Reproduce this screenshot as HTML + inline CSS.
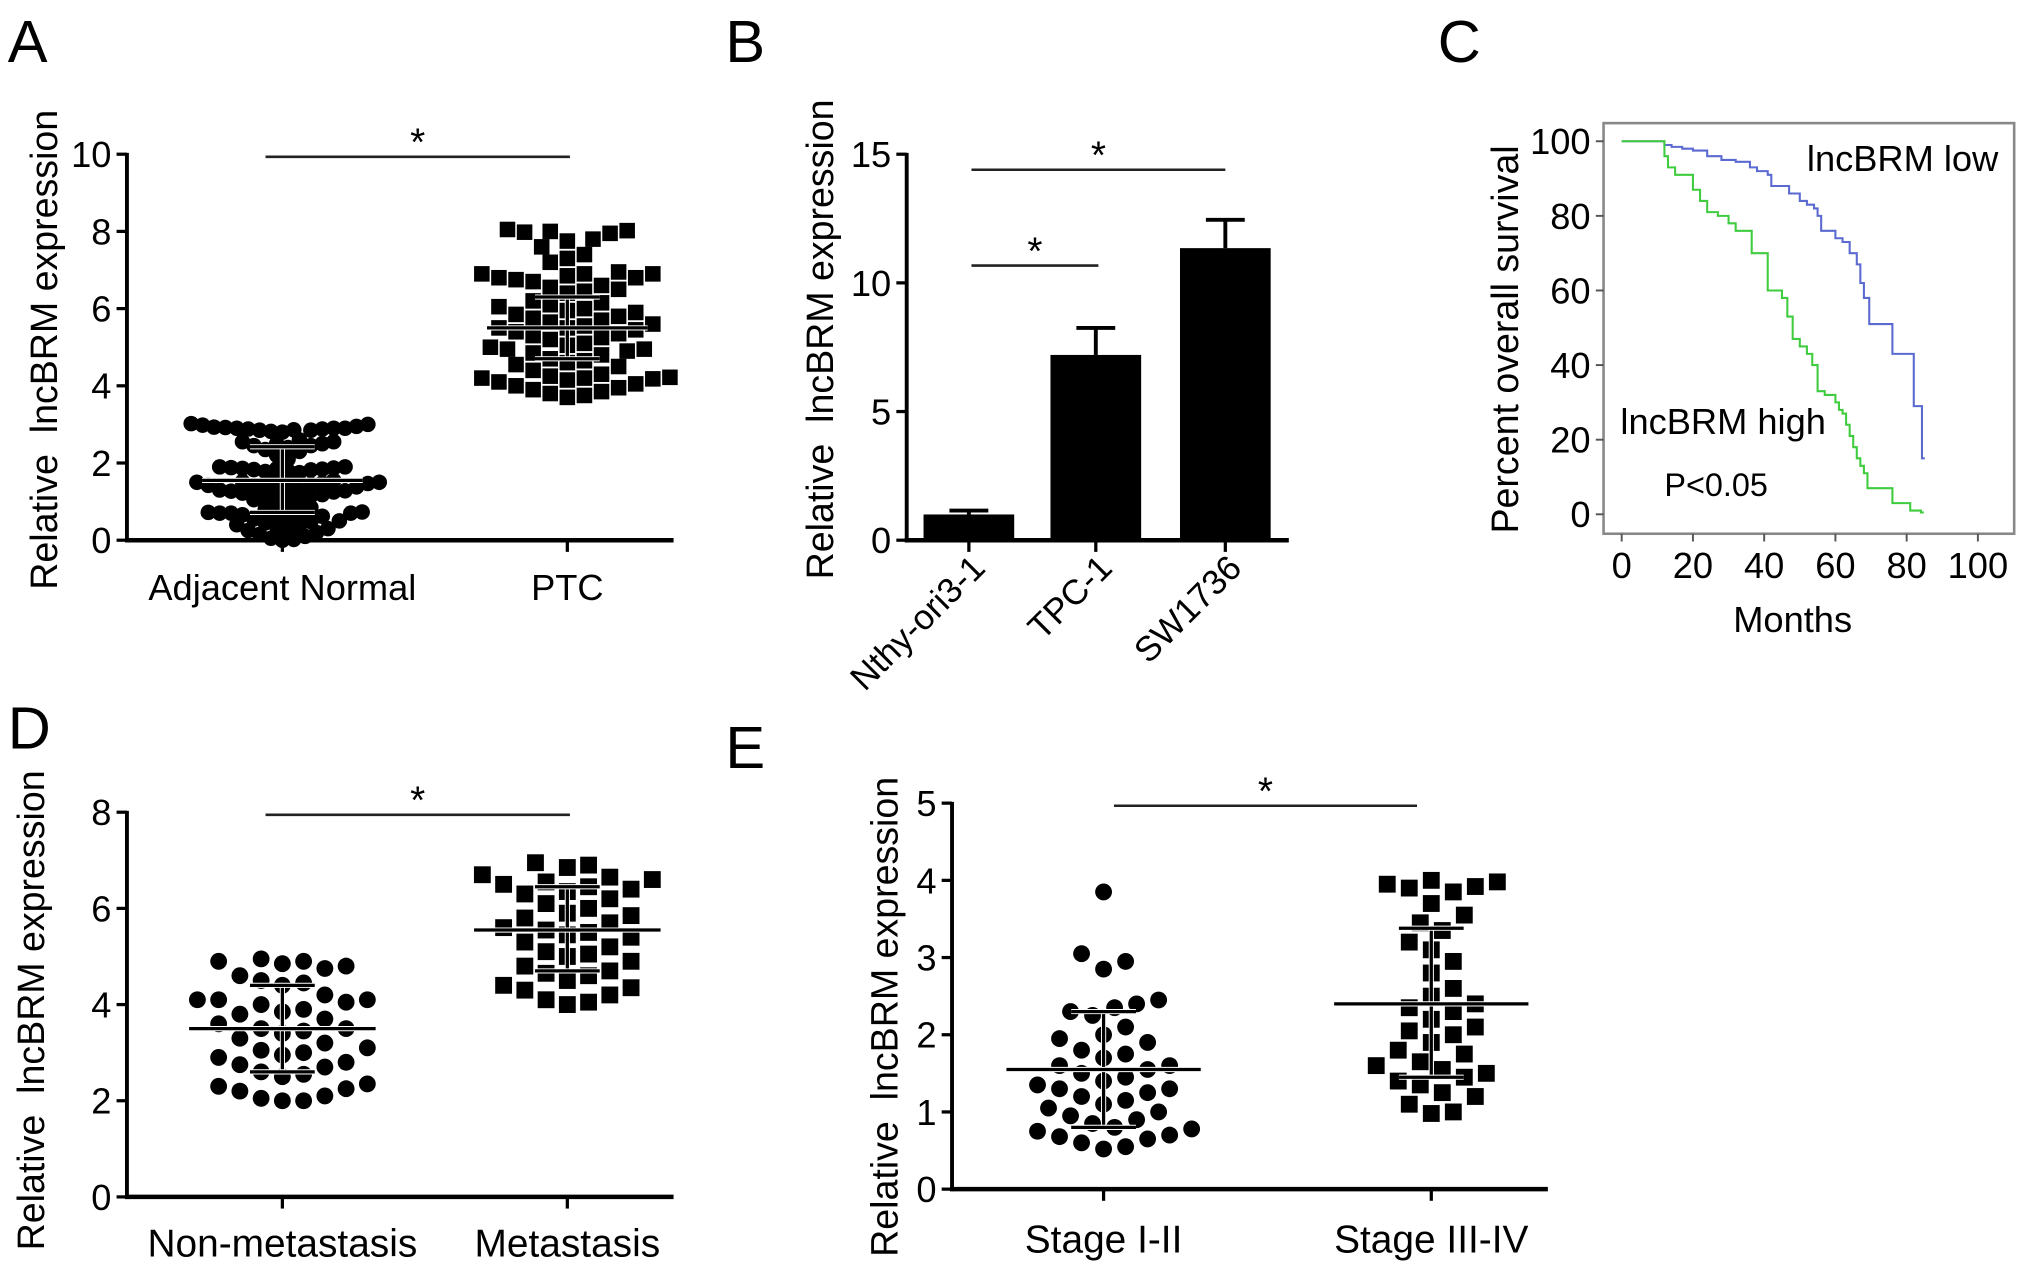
<!DOCTYPE html>
<html><head><meta charset="utf-8"><style>
html,body{margin:0;padding:0;background:#fff;}
svg{display:block;font-family:"Liberation Sans",Arial,sans-serif;}
</style></head><body>
<svg id="fig" width="2031" height="1276" viewBox="0 0 1568 985" xmlns="http://www.w3.org/2000/svg">
<rect width="1568" height="985" fill="#fff"/>
<g id="gA"></g>
<g id="gB"></g>
<g id="gC"></g>
<g id="gD"></g>
<g id="gE"></g>
</svg>
<script>
// ---------- data ----------
const catsA = ["Adjacent Normal","PTC"];
const normalVals = [2.9,2.88,2.85,2.92,2.8,2.95,3.0,3.02,2.98,2.85,2.9,2.82,2.88,2.93,2.86,2.9,
 2.6,2.55,2.5,2.45,2.4,2.35,2.3,2.5,2.45,2.55,2.2,2.1,
 1.9,1.88,1.85,1.82,1.9,1.86,1.8,1.84,1.87,1.83,1.78,1.75,
 1.55,1.5,1.52,1.48,1.45,1.5,1.55,1.42,1.4,1.47,1.38,1.5,1.35,1.3,
 1.3,1.28,1.25,1.22,1.27,1.2,1.18,1.25,1.15,1.1,1.05,1.0,0.95,0.9,0.85,0.8,
 0.72,0.7,0.68,0.7,0.73,0.66,0.7,0.65,0.62,0.6,0.55,0.5,0.48,0.45,0.4,0.38,
 0.35,0.3,0.28,0.25,0.2,0.15,0.1,0.05,0.02,0.0];
const ptcVals = [8.05,8.0,7.95,8.02,7.98,7.8,7.75,7.6,7.4,7.3,7.2,
 6.95,6.9,6.85,6.9,6.8,6.7,6.75,6.9,6.8,6.6,6.55,6.5,6.45,6.4,
 6.2,6.15,6.1,6.0,6.05,5.95,5.9,5.85,5.8,5.75,5.7,5.65,5.6,
 5.55,5.5,5.45,5.5,5.4,5.35,5.3,5.25,5.2,5.1,5.0,5.05,4.95,4.9,4.85,4.95,
 4.8,4.7,4.65,4.6,4.55,4.5,4.4,4.3,4.25,4.2,4.15,4.2,4.1,4.22,4.18,4.05,4.0,3.95,3.9,3.85,3.8,3.75,3.7];
const statsA = [[1.55,0.72,2.42],[5.5,4.7,6.3]];

const catsB = ["Nthy-ori3-1","TPC-1","SW1736"];
const barB = [1.0,7.2,11.35];
const errB = [0.15,1.05,1.1];

const kmLowT = [0,12,14,17,20,24,28,32,36,38,41,42,47,50,52,54,55,56,60,62,64,66,67,68,69.5,76,82,84.3];
const kmLowS = [100,99,98.5,98,97.5,96,95,94.5,93,92,91,88,86,84,83,82,80,76,74,73,70,67,62,58,51,43,29,15];
const kmHighT = [0,12,13,15,20,22,24,27,30,32,36.5,41,45,46.5,48,50,52,53.5,55,57,60,61,62,63,64,65,66,67,68,69,76,81,84];
const kmHighS = [100,96,93,91,87,84,81,80,78,76,70,60,58,53,47,45,43,40,33,32,30,28,27,24,21,18,15,13,11,7,3,1,0.5];

const catsD = ["Non-metastasis","Metastasis"];
const nonMetVals = [4.95,4.9,4.85,4.9,4.8,4.75,4.6,4.5,4.45,4.4,4.2,4.1,4.1,4.05,4.1,4.0,3.9,3.85,3.8,3.7,3.6,3.5,3.5,3.45,3.4,3.3,3.2,3.1,3.05,3.0,2.95,2.9,2.8,2.75,2.7,2.6,2.55,2.5,2.35,2.3,2.25,2.2,2.1,2.05,2.0,2.0];
const metVals = [6.95,6.9,6.85,6.7,6.65,6.6,6.55,6.5,6.45,6.4,6.35,6.3,6.2,6.1,6.0,5.9,5.85,5.8,5.7,5.6,5.55,5.5,5.45,5.4,5.3,5.2,5.1,5.05,5.0,4.9,4.8,4.7,4.65,4.6,4.5,4.4,4.35,4.3,4.2,4.1,4.05,4.0];
const statsD = [[3.5,2.6,4.4],[5.55,4.7,6.45]];

const catsE = ["Stage I-II","Stage III-IV"];
const st12Vals = [3.85,3.05,2.95,2.85,2.45,2.4,2.35,2.3,2.25,2.1,2.0,1.95,1.9,1.8,1.75,1.7,1.6,1.6,1.55,1.5,1.45,1.4,1.35,1.3,1.3,1.25,1.2,1.15,1.1,1.05,1.0,0.95,0.9,0.85,0.8,0.78,0.75,0.7,0.68,0.65,0.6,0.55,0.52];
const st34Vals = [4.0,3.98,3.95,3.92,3.9,3.85,3.7,3.55,3.45,3.35,3.2,3.1,2.95,2.8,2.6,2.5,2.4,2.35,2.3,2.2,2.1,2.05,2.0,1.9,1.8,1.75,1.65,1.6,1.55,1.5,1.45,1.4,1.35,1.25,1.2,1.1,1.0,0.98];
const statsE = [[1.55,0.8,2.3],[2.4,1.45,3.38]];

// ---------- helpers ----------
const NS="http://www.w3.org/2000/svg";
function mk(parent, tag, attrs, txt){
  const e=document.createElementNS(NS,tag);
  for(const k in attrs) e.setAttribute(k,attrs[k]);
  if(txt!==undefined) e.textContent=txt;
  parent.appendChild(e); return e;
}
function lin(d0,d1,r0,r1){return v=>r0+(v-d0)*(r1-r0)/(d1-d0);}
function beeswarm(ys, pr){
  const order=ys.map((v,i)=>i).sort((a,b)=>ys[b]-ys[a]);
  const placed=[]; const off=new Array(ys.length);
  for(const i of order){
    let k=0, found=null;
    while(found===null){
      const cands = k===0?[0]:[k*pr,-k*pr];
      for(const dx of cands){
        if(placed.every(p=>Math.hypot(p[0]-dx,p[1]-ys[i])>=2*pr)){found=dx;break;}
      }
      k++;
    }
    placed.push([found,ys[i]]); off[i]=found;
  }
  return off;
}
function yAxis(g, x, y, ticks, fs, name){
  const ax=mk(g,'g',{});
  
  
  mk(ax,'line',{x1:x,x2:x,y1:y(ticks[ticks.length-1])-1,y2:y(ticks[0])+1.5,stroke:'#000','stroke-width':3});
  ticks.forEach(t=>{
    mk(ax,'line',{x1:x-8,x2:x,y1:y(t),y2:y(t),stroke:'#000','stroke-width':2.5});
    const tl=mk(ax,'text',{x:x-12,y:y(t)+10,'font-size':fs,'text-anchor':'end'},String(t));
    
    
  });
}
function title(g,x,y,txt,fs,name){
  const t=mk(g,'text',{x:0,y:0,'font-size':fs,'text-anchor':'middle',transform:`translate(${x},${y}) rotate(-90)`},txt);
  
  
  t.style.whiteSpace='pre';
}
function letter(g,x,y,L){
  const t=mk(g,'text',{x:x,y:y,'font-size':46},L);
  
  
}
function sig(g,x1,x2,y){
  mk(g,'line',{x1:x1,x2:x2,y1:y,y2:y,stroke:'#222','stroke-width':2});
  const s=mk(g,'text',{x:(x1+x2)/2,y:y-1,'font-size':30,'text-anchor':'middle'},'*');
  
  
}
function seg(g,x1,y1,x2,y2){
  mk(g,'line',{x1:x1,x2:x2,y1:y1,y2:y2,stroke:'#fff','stroke-width':4});
  return mk(g,'line',{x1:x1,x2:x2,y1:y1,y2:y2,stroke:'#000','stroke-width':2.5});
}
function scatterPanel(g, y, groups, centers, stats, shapes, r, halfMean, prs){
  groups.forEach((vals,gi)=>{
    const ys=vals.map(v=>y(v));
    const off=beeswarm(ys,prs[gi]);
    const cx=centers[gi];
    vals.forEach((v,i)=>{
      let m;
      if(shapes[gi]==='c'){
        m=mk(g,'circle',{cx:cx+off[i],cy:ys[i],r:r,fill:'#000'});
        
      } else {
        m=mk(g,'rect',{x:cx+off[i]-r,y:ys[i]-r,width:2*r,height:2*r,fill:'#000'});
        
      }
      
    });
    const s=stats[gi];
    seg(g,cx,y(s[1]),cx,y(s[2]));
    seg(g,cx-25,y(s[1]),cx+25,y(s[1]));
    seg(g,cx-25,y(s[2]),cx+25,y(s[2]));
    const mean=seg(g,cx-halfMean,y(s[0]),cx+halfMean,y(s[0]));
    
    
  });
}
function xAxis(g,x1,x2,y0,centers,cats,ly,fs){
  const ax=mk(g,'g',{});
  
  
  mk(ax,'line',{x1:x1-1.5,x2:x2,y1:y0,y2:y0,stroke:'#000','stroke-width':3.5});
  centers.forEach((c,i)=>{
    mk(ax,'line',{x1:c,x2:c,y1:y0,y2:y0+9,stroke:'#000','stroke-width':2.5});
    const t=mk(ax,'text',{x:c,y:ly,'font-size':fs,'text-anchor':'middle'},cats[i]);
    
    
  });
}

// ---------- Panel A ----------
(function(){
  const g=document.getElementById('gA');
  letter(g,6,48,'A');
  const y=lin(0,10,417,119);
  const centers=[218,438];
  scatterPanel(g,y,[normalVals,ptcVals],centers,statsA,['c','s'],6,62,[4.4,6.6]);
  yAxis(g,98,y,[0,2,4,6,8,10],28,'y-axis-a');
  xAxis(g,98,520,417,centers,catsA,463,28);
  title(g,44,270,'Relative  lncBRM expression',29,'y-axis-title-a');
  sig(g,205,440,121);
})();

// ---------- Panel B ----------
(function(){
  const g=document.getElementById('gB');
  letter(g,560,48,'B');
  const y=lin(0,15,417,119);
  const centers=[748,846,946];
  const bw=70;
  barB.forEach((v,i)=>{
    const c=centers[i];
    const b=mk(g,'rect',{x:c-bw/2,y:y(v),width:bw,height:y(0)-y(v),fill:'#000'});
    
    
    mk(g,'line',{x1:c,x2:c,y1:y(v),y2:y(v+errB[i]),stroke:'#000','stroke-width':3});
    mk(g,'line',{x1:c-15,x2:c+15,y1:y(v+errB[i]),y2:y(v+errB[i]),stroke:'#000','stroke-width':3});
  });
  yAxis(g,700,y,[0,5,10,15],28,'y-axis-b');
  const ax=mk(g,'g',{});
  
  
  mk(ax,'line',{x1:698.5,x2:995,y1:417,y2:417,stroke:'#000','stroke-width':3.5});
  centers.forEach((c,i)=>{
    mk(ax,'line',{x1:c,x2:c,y1:417,y2:426,stroke:'#000','stroke-width':2.5});
    const t=mk(ax,'text',{x:0,y:0,'font-size':27,'text-anchor':'end',transform:`translate(${c+14},${440}) rotate(-45)`},catsB[i]);
    
    
  });
  title(g,643,262,'Relative  lncBRM expression',29,'y-axis-title-b');
  sig(g,750,946,131);
  sig(g,750,848,205);
})();

// ---------- Panel C ----------
(function(){
  const g=document.getElementById('gC');
  letter(g,1110,48,'C');
  const x=lin(0,100,1252,1527);
  const y=lin(0,100,397,109);
  const fr=mk(g,'rect',{x:1238,y:95,width:317,height:317,fill:'none',stroke:'#888','stroke-width':2});
  
  
  [0,20,40,60,80,100].forEach(t=>{
    mk(g,'line',{x1:1232,x2:1238,y1:y(t),y2:y(t),stroke:'#555','stroke-width':1.5});
    const tl=mk(g,'text',{x:1228,y:y(t)+10,'font-size':28,'text-anchor':'end'},String(t));
    
    
    mk(g,'line',{x1:x(t),x2:x(t),y1:412,y2:418,stroke:'#555','stroke-width':1.5});
    const xl=mk(g,'text',{x:x(t),y:446,'font-size':28,'text-anchor':'middle'},String(t));
    
    
  });
  function km(T,S,col,name){
    let d=`M${x(T[0])},${y(S[0])}`;
    for(let i=1;i<T.length;i++){ d+=` H${x(T[i])} V${y(S[i])}`; }
    d+=` H${x(T[T.length-1]+0.8)}`;
    const p=mk(g,'path',{d:d,fill:'none',stroke:col,'stroke-width':1.6});
    
    
  }
  km(kmLowT,kmLowS,'#5a6ad0','km-curve-low');
  km(kmHighT,kmHighS,'#3fcc3f','km-curve-high');
  const t1=mk(g,'text',{x:1395,y:132,'font-size':28},'lncBRM low');
  
  
  const t2=mk(g,'text',{x:1251,y:335,'font-size':28},'lncBRM high');
  
  
  const t3=mk(g,'text',{x:1285,y:383,'font-size':25},'P<0.05');
  
  
  const mt=mk(g,'text',{x:1384,y:488,'font-size':28,'text-anchor':'middle'},'Months');
  
  
  title(g,1172,262,'Percent overall survival',29,'y-axis-title-c');
})();

// ---------- Panel D ----------
(function(){
  const g=document.getElementById('gD');
  letter(g,6,578,'D');
  const y=lin(0,8,924,627);
  const centers=[218,438];
  scatterPanel(g,y,[nonMetVals,metVals],centers,statsD,['c','s'],6.5,72,[8.2,8.2]);
  yAxis(g,98,y,[0,2,4,6,8],28,'y-axis-d');
  xAxis(g,98,520,924,centers,catsD,970,30);
  title(g,34,780,'Relative  lncBRM expression',29,'y-axis-title-d');
  sig(g,205,440,629);
})();

// ---------- Panel E ----------
(function(){
  const g=document.getElementById('gE');
  letter(g,560,593,'E');
  const y=lin(0,5,918,620);
  const centers=[852,1105];
  scatterPanel(g,y,[st12Vals,st34Vals],centers,statsE,['c','s'],6.5,75,[8.5,8.5]);
  yAxis(g,735,y,[0,1,2,3,4,5],28,'y-axis-e');
  xAxis(g,735,1195,918,centers,catsE,967,30);
  title(g,693,785,'Relative  lncBRM expression',29,'y-axis-title-e');
  sig(g,860,1094,622);
})();
</script>
</body></html>
